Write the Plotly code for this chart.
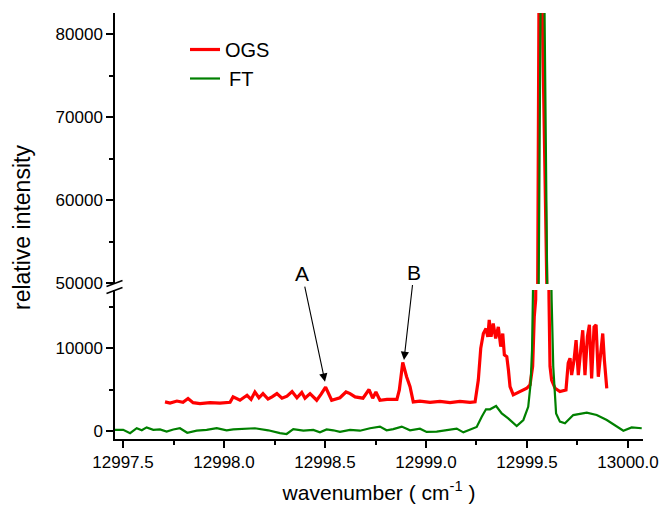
import plotly.graph_objects as go

# ---- data ----
ogs_wn = [12997.708, 12997.733, 12997.767, 12997.797, 12997.822, 12997.847, 12997.881, 12997.931,
          12997.980, 12998.030, 12998.045, 12998.079, 12998.114, 12998.134, 12998.153, 12998.173,
          12998.193, 12998.218, 12998.238, 12998.262, 12998.287, 12998.312, 12998.337, 12998.361,
          12998.385, 12998.401, 12998.426, 12998.459, 12998.480, 12998.503, 12998.533, 12998.554,
          12998.574, 12998.604, 12998.624, 12998.649, 12998.688, 12998.718, 12998.736, 12998.752,
          12998.772, 12998.807, 12998.856, 12998.868, 12998.885, 12998.904, 12998.921, 12998.937,
          12998.970, 12999.020, 12999.069, 12999.119, 12999.168, 12999.218, 12999.243, 12999.259,
          12999.271, 12999.284, 12999.297, 12999.306, 12999.313, 12999.322, 12999.333, 12999.345,
          12999.358, 12999.370, 12999.380, 12999.388, 12999.400, 12999.408, 12999.416, 12999.432,
          12999.449, 12999.474, 12999.499, 12999.515, 12999.528, 12999.536, 12999.543, 12999.553,
          12999.559, 12999.568, 12999.576, 12999.598, 12999.609, 12999.614, 12999.622, 12999.639,
          12999.663, 12999.693, 12999.704, 12999.713, 12999.721, 12999.733, 12999.743, 12999.754,
          12999.766, 12999.776, 12999.787, 12999.799, 12999.809, 12999.820, 12999.832, 12999.842,
          12999.853, 12999.865, 12999.875, 12999.883, 12999.895]
ogs_int = [3500, 3350, 3600, 3450, 3900, 3400, 3300, 3400,
           3350, 3450, 4100, 3700, 4300, 3800, 4700, 4000,
           4500, 3850, 4100, 4500, 3950, 4200, 4750, 4000,
           4650, 3950, 4500, 3700, 4400, 5300, 3700, 3900,
           4000, 4700, 4500, 4100, 3950, 5000, 3950, 4700,
           3700, 3800, 3800, 4950, 8300, 6550, 5350, 3500,
           3600, 3450, 3550, 3400, 3550, 3450, 3500, 6150,
           10000, 11800, 12400, 11400, 13450, 11400, 13000, 11200,
           12600, 10200, 11800, 9200, 9000, 7400, 5350, 4350,
           4550, 4950, 5150, 5550, 7800, 13850, 15900, 50000,
           82500, 90000, 82500, 50000, 16000, 7800, 6150, 5150,
           4750, 4950, 8200, 8800, 6750, 8600, 11000, 6750,
           9800, 12200, 6750, 11400, 12850, 6350, 12600, 12850,
           6550, 9800, 11800, 8600, 5150]

ft_wn = [12997.459, 12997.501, 12997.535, 12997.568, 12997.593, 12997.617, 12997.650, 12997.683,
         12997.716, 12997.749, 12997.782, 12997.818, 12997.865, 12997.914, 12997.964, 12998.013,
         12998.046, 12998.104, 12998.153, 12998.219, 12998.277, 12998.310, 12998.343, 12998.393,
         12998.442, 12998.475, 12998.508, 12998.541, 12998.574, 12998.624, 12998.673, 12998.723,
         12998.772, 12998.805, 12998.838, 12998.880, 12998.921, 12998.970, 12999.003, 12999.053,
         12999.102, 12999.152, 12999.185, 12999.218, 12999.251, 12999.276, 12999.297, 12999.317,
         12999.347, 12999.375, 12999.407, 12999.449, 12999.482, 12999.506, 12999.518, 12999.525,
         12999.531, 12999.558, 12999.567, 12999.577, 12999.587, 12999.600, 12999.622, 12999.630,
         12999.644, 12999.663, 12999.688, 12999.729, 12999.796, 12999.845, 12999.895, 12999.944,
         12999.977, 13000.018, 13000.068]
ft_int = [100, 100, -300, 300, 50, 400, 100, 150,
          -100, 150, 300, -250, 0, 100, 300, 50,
          150, 200, 300, 50, -300, -400, 200, 0,
          100, -200, 150, 50, -150, 100, 0, 300,
          500, 50, 200, 500, 50, 250, -150, -100,
          100, 250, -200, 100, 450, 1700, 2600, 2600,
          3000, 2100, 1500, 570, 1300, 2900, 5750, 9800,
          15900, 50000, 82500, 90000, 82500, 50000, 15900, 7800,
          2100, 1100, 900, 1900, 2200, 1900, 1300, 570,
          0, 400, 300]

x_ticks = [12997.5, 12998.0, 12998.5, 12999.0, 12999.5, 13000.0]
low_ticks = [0, 10000]
high_ticks = [50000, 60000, 70000, 80000]

annot_labels = ["A", "B"]
annot_wn = [12998.500, 12998.891]
annot_int = [5950, 8580]

RED = "#ff0000"
GREEN = "#008000"
FONT = "Liberation Sans, Arial, Helvetica, sans-serif"

W, H = 661, 506
ML, MR, MT, MB = 115, 18, 13, 67
PW, PH = W - ML - MR, H - MT - MB

fig = go.Figure()
# lower panel
fig.add_trace(go.Scatter(x=ogs_wn, y=ogs_int, mode="lines", name="OGS",
                         line=dict(color=RED, width=3.2), xaxis="x", yaxis="y"))
fig.add_trace(go.Scatter(x=ft_wn, y=ft_int, mode="lines", name="\u2009FT",
                         line=dict(color=GREEN, width=2.2), xaxis="x", yaxis="y"))
# upper panel (same data, other y-scale)
fig.add_trace(go.Scatter(x=ogs_wn, y=ogs_int, mode="lines", name="OGS",
                         showlegend=False, line=dict(color=RED, width=3.2), xaxis="x", yaxis="y2"))
fig.add_trace(go.Scatter(x=ft_wn, y=ft_int, mode="lines", name="\u2009FT",
                         showlegend=False, line=dict(color=GREEN, width=2.2), xaxis="x", yaxis="y2"))

axis_common = dict(showline=True, linecolor="black", linewidth=1.5, ticks="outside",
                   ticklen=7, tickwidth=1.5, tickcolor="black", showgrid=False, zeroline=False,
                   automargin=False,
                   tickfont=dict(family=FONT, size=17, color="black"))

y_low_top = 290
y_high_bot = 284
dom_low = [0, (H - MB - y_low_top) / PH]
dom_high = [(H - MB - y_high_bot) / PH, 1]

fig.update_layout(
    width=W, height=H, margin=dict(l=ML, r=MR, t=MT, b=MB, autoexpand=False),
    paper_bgcolor="white", plot_bgcolor="white",
    font=dict(family=FONT, color="black"),
    xaxis=dict(range=[12997.4604, 13000.0743], tickvals=x_ticks, tickformat=".1f",
               minor=dict(dtick=0.25, tick0=12997.5, ticks="outside", ticklen=4,
                          tickwidth=1.5, tickcolor="black"),
               title=dict(text="wavenumber ( cm<sup>-1</sup> )", font=dict(family=FONT, size=21),
                          standoff=14),
               anchor="y", **axis_common),
    yaxis=dict(domain=dom_low, range=[-1007, 17081], tickvals=low_ticks, tickformat="d",
               minor=dict(dtick=5000, tick0=0, ticks="outside", ticklen=4,
                          tickwidth=1.5, tickcolor="black"),
               anchor="x", **axis_common),
    yaxis2=dict(domain=dom_high, range=[49916, 82567], tickvals=high_ticks, tickformat="d",
                minor=dict(dtick=5000, tick0=50000, ticks="outside", ticklen=4,
                           tickwidth=1.5, tickcolor="black"),
                anchor="x", **axis_common),
    showlegend=True,
    legend=dict(x=(185 - ML) / PW, y=(H - MB - 30) / PH, xanchor="left", yanchor="top",
                bgcolor="rgba(0,0,0,0)", borderwidth=0,
                font=dict(family=FONT, size=20, color="black")),
)

# y-axis title as rotated text
fig.add_annotation(text="relative intensity", xref="paper", yref="paper",
                   x=(22 - ML) / PW, y=(H - MB - 228) / PH, showarrow=False, textangle=-90,
                   font=dict(family=FONT, size=23, color="black"), xanchor="center", yanchor="middle")

# A / B arrows
text_off = [(-23, -108), (10, -88)]
for lab, xw, yv, (ax, ay) in zip(annot_labels, annot_wn, annot_int, text_off):
    fig.add_annotation(text=lab, x=xw, y=yv, xref="x", yref="y", ax=ax, ay=ay,
                       showarrow=True, arrowhead=2, arrowsize=1.5, arrowwidth=1.1,
                       arrowcolor="black", font=dict(family=FONT, size=21, color="black"))

# axis break marks
def px2paper(px, py):
    return (px - ML) / PW, (H - MB - py) / PH

for (x0, y0, x1, y1) in [(106.5, 286.5, 122.5, 280.5), (106.5, 293.5, 122.5, 287.5)]:
    a0, b0 = px2paper(x0, y0)
    a1, b1 = px2paper(x1, y1)
    fig.add_shape(type="line", xref="paper", yref="paper", x0=a0, y0=b0, x1=a1, y1=b1,
                  line=dict(color="black", width=1.5))

fig.write_html("out.html")
